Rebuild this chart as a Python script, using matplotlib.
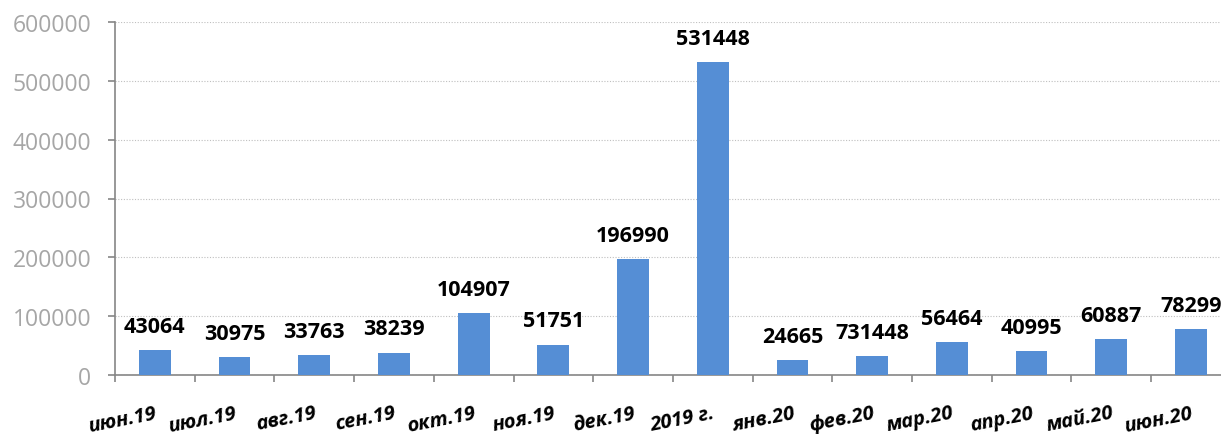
import numpy as np
import matplotlib.pyplot as plt
from matplotlib.ticker import MultipleLocator, FixedLocator

months = ["июн.19", "июл.19", "авг.19", "сен.19", "окт.19", "ноя.19", "дек.19",
          "2019 г.", "янв.20", "фев.20", "мар.20", "апр.20", "май.20", "июн.20"]
values = [43064, 30975, 33763, 38239, 104907, 51751, 196990,
          531448, 24665, 32500, 56464, 40995, 60887, 78299]
# labels as printed on the chart (фев.20 label differs from its bar height)
value_labels = ["43064", "30975", "33763", "38239", "104907", "51751", "196990",
                "531448", "24665", "731448", "56464", "40995", "60887", "78299"]

plt.rcParams['font.family'] = ['Open Sans', 'DejaVu Sans']

fig = plt.figure(figsize=(12.21, 4.35), dpi=100)
ax = fig.add_axes([115 / 1221, 1 - 376 / 435, 14 * 79.7 / 1221, (376 - 23) / 435])

x = np.arange(len(months))
bars = ax.bar(x, values, width=0.4, color='#558ED5', zorder=3)

for rect, lab in zip(bars, value_labels):
    ax.annotate(lab, (rect.get_x() + rect.get_width() / 2, rect.get_height()),
                xytext=(0, 17), textcoords='offset points', ha='center', va='center',
                fontsize=15.5, fontweight='bold', color='black', zorder=4)

ax.set_xlim(-0.5, len(months) - 0.5)
ax.set_ylim(0, 600000)
ax.yaxis.set_major_locator(MultipleLocator(100000))
ax.grid(axis='y', linestyle=(0, (1, 1.5)), color='#BFBFBF', linewidth=0.8, zorder=0)

for s in ['top', 'right']:
    ax.spines[s].set_visible(False)
for s in ['left', 'bottom']:
    ax.spines[s].set_color('#868686')
    ax.spines[s].set_linewidth(1.2)

ax.tick_params(axis='y', colors='#868686', length=5, width=1.2, pad=12,
               labelsize=16.5, labelcolor='#A6A6A6')

ax.set_xticks(x)
ax.set_xticklabels(months, rotation=11, ha='right', va='top', rotation_mode='anchor',
                   fontsize=14.5, fontweight='bold', fontstyle='italic')
ax.tick_params(axis='x', which='major', length=0, pad=20)
ax.xaxis.set_minor_locator(FixedLocator(np.arange(len(months) + 1) - 0.5))
ax.tick_params(axis='x', which='minor', length=5, width=1.2, colors='#868686')

fig.savefig('out.png', dpi=100)
